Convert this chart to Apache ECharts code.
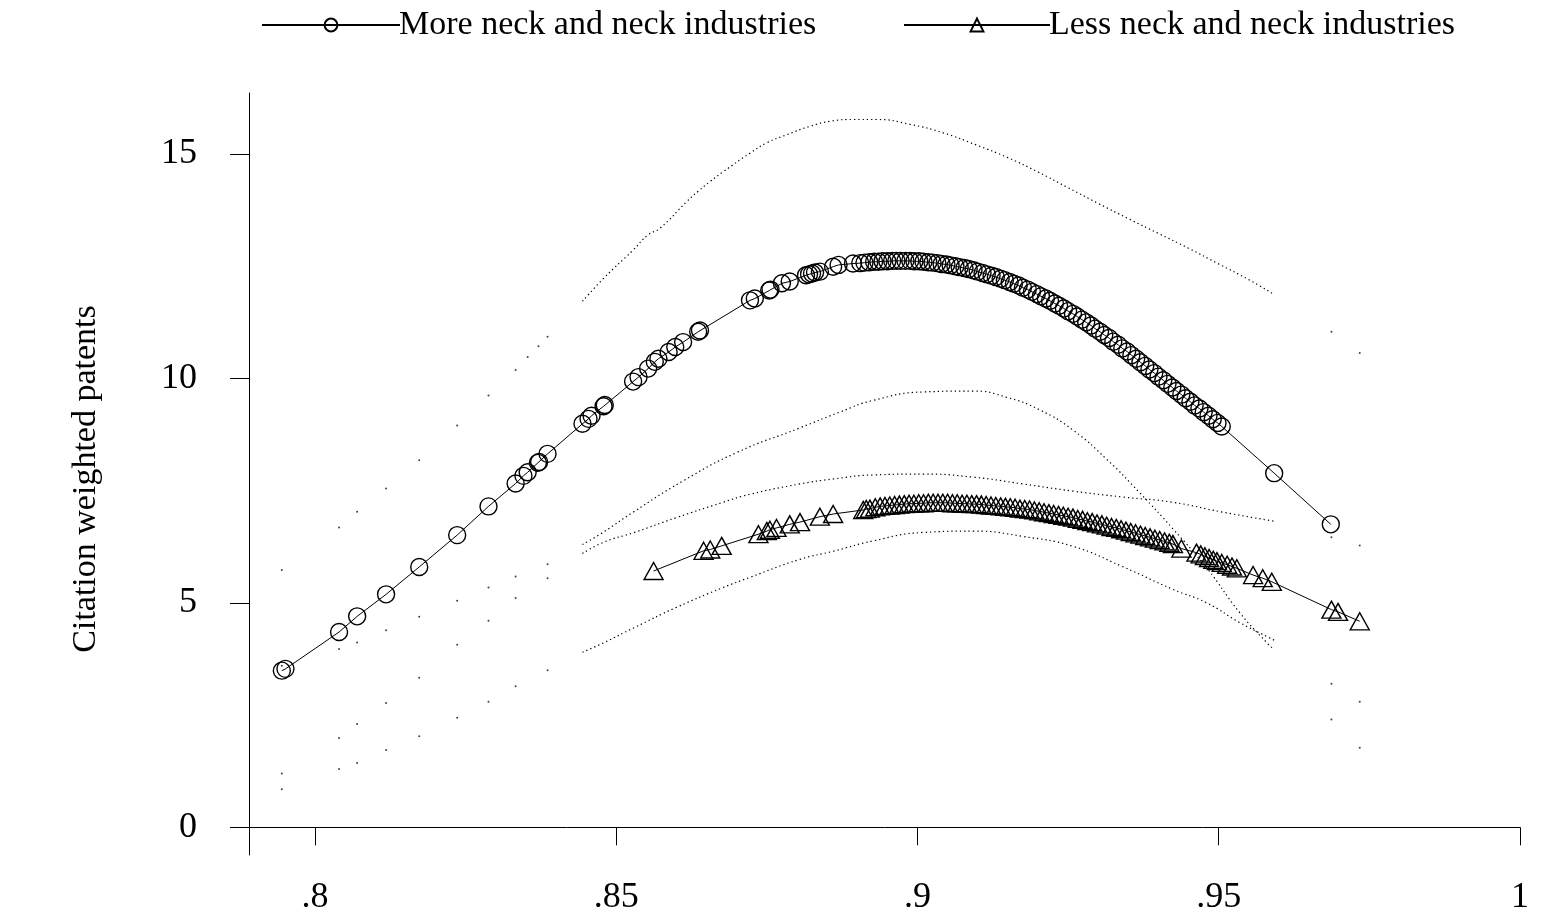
<!DOCTYPE html>
<html><head><meta charset="utf-8">
<script src="https://cdn.jsdelivr.net/npm/echarts@6/dist/echarts.min.js"></script>
<style>html,body{margin:0;padding:0;background:#fff}#c{width:1542px;height:916px}</style>
</head><body><div id="c"></div>
<script>
const seriesNames = ['More neck and neck industries', 'Less neck and neck industries'];
const yAxisTitle = 'Citation weighted patents';
const xTickValues = [0.8, 0.85, 0.9, 0.95, 1];
const xTickLabels = ['.8', '.85', '.9', '.95', '1'];
const yTickValues = [0, 5, 10, 15];
const yTickLabels = ['0', '5', '10', '15'];

const moreData = [
[.7945,3.49],[.7951,3.53],[.8040,4.35],[.8070,4.70],[.8118,5.19],[.8173,5.80],[.8236,6.51],[.8288,7.15],
[.8333,7.66],[.8346,7.83],[.8353,7.91],[.8370,8.12],[.8372,8.14],[.8386,8.32],[.8444,8.99],[.8454,9.10],
[.8459,9.17],[.8479,9.38],[.8481,9.41],[.8528,9.93],[.8537,10.03],[.8553,10.22],[.8564,10.37],[.8570,10.44],
[.8587,10.59],[.8598,10.70],[.8611,10.81],[.8636,11.04],[.8639,11.07],[.8722,11.74],[.8730,11.78],[.8754,11.96],
[.8756,11.98],[.8775,12.12],[.8788,12.16],[.8815,12.30],[.8820,12.32],[.8825,12.34],[.8830,12.36],[.8838,12.38],
[.8860,12.49],[.8869,12.53],[.8893,12.56],
[.8905,12.57],[.8912,12.58],[.8920,12.59],[.8928,12.60],[.8935,12.60],[.8942,12.61],[.8950,12.61],[.8958,12.62],
[.8965,12.62],[.8972,12.62],[.8980,12.62],[.8988,12.62],[.8995,12.61],[.9003,12.61],[.9010,12.60],[.9018,12.59],
[.9025,12.58],[.9033,12.57],[.9040,12.55],[.9048,12.54],[.9055,12.52],[.9063,12.50],[.9070,12.48],[.9078,12.46],
[.9085,12.44],[.9093,12.41],[.9100,12.38],[.9108,12.35],[.9115,12.32],[.9123,12.29],[.9130,12.26],[.9138,12.22],
[.9145,12.19],[.9153,12.15],[.9160,12.11],[.9168,12.07],[.9175,12.02],[.9183,11.98],[.9190,11.93],[.9198,11.88],
[.9205,11.83],[.9213,11.78],[.9220,11.73],[.9228,11.67],[.9235,11.62],[.9243,11.56],[.9250,11.50],[.9258,11.44],
[.9265,11.38],[.9273,11.31],[.9280,11.25],[.9288,11.18],[.9295,11.11],[.9303,11.04],[.9310,10.97],[.9318,10.90],
[.9325,10.82],[.9333,10.75],[.9340,10.67],[.9348,10.60],[.9355,10.52],[.9363,10.44],[.9370,10.36],[.9378,10.28],
[.9385,10.20],[.9393,10.12],[.9400,10.04],[.9408,9.96],[.9415,9.88],[.9423,9.80],[.9430,9.72],[.9438,9.64],
[.9445,9.56],[.9453,9.48],[.9460,9.40],[.9468,9.33],[.9475,9.25],[.9483,9.17],[.9490,9.09],[.9498,9.01],
[.9505,8.93],[.9592,7.89],[.9686,6.75]
];

const lessData = [
[.8562,5.71],[.8645,6.16],[.8656,6.19],[.8675,6.27],[.8736,6.53],[.8750,6.60],[.8755,6.63],[.8766,6.67],
[.8788,6.75],[.8805,6.80],[.8838,6.92],[.8860,6.98],[.8910,7.07],[.8915,7.09],[.8921,7.10],
[.8930,7.13],[.8938,7.15],[.8946,7.16],[.8954,7.17],[.8962,7.18],[.8970,7.19],[.8978,7.20],[.8986,7.21],
[.8994,7.21],[.9002,7.22],[.9010,7.22],[.9018,7.23],[.9026,7.23],[.9034,7.23],[.9042,7.23],[.9050,7.23],
[.9058,7.22],[.9066,7.22],[.9074,7.21],[.9082,7.21],[.9090,7.20],[.9098,7.20],[.9106,7.19],[.9114,7.18],
[.9122,7.17],[.9130,7.16],[.9138,7.15],[.9146,7.14],[.9154,7.13],[.9162,7.12],[.9170,7.10],[.9178,7.09],
[.9186,7.08],[.9194,7.06],[.9202,7.04],[.9210,7.02],[.9218,7.00],[.9226,6.98],[.9234,6.96],[.9242,6.94],
[.9250,6.92],[.9258,6.90],[.9266,6.87],[.9274,6.85],[.9282,6.82],[.9290,6.80],[.9298,6.77],[.9306,6.75],
[.9314,6.72],[.9322,6.69],[.9330,6.67],[.9338,6.64],[.9346,6.61],[.9354,6.58],[.9362,6.55],[.9370,6.52],
[.9378,6.49],[.9386,6.46],[.9394,6.43],[.9402,6.40],[.9410,6.37],[.9418,6.34],[.9424,6.31],
[.9438,6.21],[.9463,6.12],[.9470,6.08],[.9477,6.04],[.9484,6.00],[.9491,5.96],[.9497,5.93],[.9505,5.89],
[.9514,5.85],[.9522,5.81],[.9530,5.77],[.9557,5.62],[.9573,5.55],[.9588,5.47],[.9687,4.85],[.9698,4.80],
[.9734,4.59]
];

const moreUpper = [
[.7945,5.73],[.8040,6.68],[.8070,7.03],[.8118,7.55],[.8173,8.18],[.8236,8.95],[.8288,9.62],[.8333,10.19],
[.8353,10.48],[.8371,10.72],[.8386,10.93],[.8444,11.72],[.8479,12.23],[.8528,12.86],[.8553,13.20],[.8573,13.35],
[.8617,13.94],[.8636,14.17],[.8656,14.39],[.8678,14.61],[.8722,15.02],[.8750,15.25],[.8783,15.43],[.8822,15.62],
[.8855,15.73],[.8894,15.77],[.8932,15.77],[.8988,15.66],[.9043,15.47],[.9098,15.20],[.9150,14.92],[.9200,14.60],
[.9250,14.25],[.9300,13.90],[.9350,13.56],[.9400,13.23],[.9450,12.90],[.9500,12.55],[.9550,12.20],[.9592,11.87],
[.9687,11.04],[.9734,10.57]
];
const moreLower = [
[.7945,1.20],[.8040,1.99],[.8070,2.30],[.8118,2.77],[.8173,3.33],[.8236,4.07],[.8288,4.60],[.8333,5.11],
[.8386,5.55],[.8444,6.30],[.8479,6.58],[.8528,7.02],[.8610,7.71],[.8700,8.35],[.8805,8.90],[.8871,9.25],
[.8926,9.51],[.9010,9.70],[.9093,9.72],[.9148,9.58],[.9203,9.30],[.9258,8.85],[.9314,8.20],[.9369,7.45],
[.9424,6.65],[.9480,5.78],[.9535,4.78],[.9580,4.11],[.9592,3.96],[.9687,2.40],[.9734,1.77]
];
const lessUpper = [
[.7945,3.60],[.8040,3.97],[.8070,4.12],[.8118,4.39],[.8173,4.69],[.8236,5.05],[.8288,5.34],[.8333,5.59],
[.8386,5.86],[.8444,6.10],[.8479,6.35],[.8530,6.57],[.8600,6.90],[.8677,7.24],[.8722,7.42],[.8805,7.65],
[.8860,7.76],[.8926,7.85],[.9010,7.87],[.9093,7.80],[.9175,7.65],[.9258,7.49],[.9340,7.36],[.9424,7.24],
[.9507,7.02],[.9592,6.82],[.9687,6.46],[.9734,6.28]
];
const lessLower = [
[.7945,0.85],[.8040,1.30],[.8070,1.43],[.8118,1.72],[.8173,2.03],[.8236,2.44],[.8288,2.80],[.8333,3.14],
[.8386,3.50],[.8444,3.90],[.8479,4.11],[.8530,4.45],[.8600,4.90],[.8677,5.34],[.8722,5.57],[.8805,5.97],
[.8860,6.15],[.8926,6.38],[.9010,6.57],[.9093,6.60],[.9175,6.48],[.9258,6.26],[.9340,5.81],[.9424,5.30],
[.9480,5.00],[.9535,4.56],[.9580,4.25],[.9592,4.17],[.9687,3.20],[.9734,2.80]
];

const FONT = 'Liberation Serif, Times New Roman, serif';
const chart = echarts.init(document.getElementById('c'), null, {renderer: 'canvas'});

function lab(values, labels) {
  return v => { const i = values.findIndex(t => Math.abs(t - v) < 1e-9); return i >= 0 ? labels[i] : ''; };
}
const bandSeries = [];
[moreUpper, moreLower, lessUpper, lessLower].forEach(b => {
  bandSeries.push({
    type: 'line', data: b.filter(p => p[0] >= 0.844 && p[0] <= 0.96), showSymbol: false, smooth: true,
    lineStyle: {color: '#000', width: 1.2, type: [1.3, 3]}, silent: true, z: 1
  });
  bandSeries.push({
    type: 'scatter', data: b.filter(p => p[0] < 0.844 || p[0] > 0.96), symbol: 'circle', symbolSize: 2,
    itemStyle: {color: '#111'}, silent: true, z: 1
  });
});

const markerStyle = {color: 'rgba(0,0,0,0)', borderColor: '#000', borderWidth: 1.4};
const legendText = {fontFamily: FONT, fontSize: 34, color: '#000', padding: [0, 0, 0, -6]};
chart.setOption({
  animation: false,
  backgroundColor: '#fff',
  grid: {left: 249, right: 22, top: 93, bottom: 61},
  legend: [
    {data: [seriesNames[0]], left: 256, top: 3, itemWidth: 138, itemHeight: 16, itemGap: 0,
     textStyle: legendText, selectedMode: false},
    {data: [seriesNames[1]], left: 898, top: 3, itemWidth: 146, itemHeight: 16, itemGap: 0,
     textStyle: legendText, selectedMode: false}
  ],
  xAxis: {
    type: 'value', min: 0.78905, max: 1.0,
    axisLine: {show: true, lineStyle: {color: '#000', width: 1}},
    axisTick: {show: true, length: 18, customValues: xTickValues, lineStyle: {color: '#000', width: 1}},
    axisLabel: {customValues: xTickValues, formatter: lab(xTickValues, xTickLabels), fontFamily: FONT, fontSize: 36, color: '#000', margin: 25},
    splitLine: {show: false}
  },
  yAxis: {
    type: 'value', min: -0.617, max: 16.36,
    name: yAxisTitle, nameLocation: 'middle', nameGap: 146,
    nameTextStyle: {fontFamily: FONT, fontSize: 34, color: '#000', padding: [0, 0, 0, -10]},
    axisLine: {show: true, lineStyle: {color: '#000', width: 1}},
    axisTick: {show: true, length: 19, customValues: yTickValues, lineStyle: {color: '#000', width: 1}},
    axisLabel: {customValues: yTickValues, formatter: lab(yTickValues, yTickLabels), fontFamily: FONT, fontSize: 36, color: '#000', margin: 52, padding: [8, 0, 0, 0]},
    splitLine: {show: false}
  },
  series: bandSeries.concat([
    {name: seriesNames[0], type: 'line', data: moreData, symbol: 'circle', symbolSize: 17, showAllSymbol: true,
     itemStyle: markerStyle, lineStyle: {color: '#000', width: 1}, emphasis: {disabled: true}, z: 3},
    {name: seriesNames[1], type: 'line', data: lessData, symbol: 'triangle', symbolSize: [19, 17], showAllSymbol: true,
     itemStyle: markerStyle, lineStyle: {color: '#000', width: 1}, emphasis: {disabled: true}, z: 3}
  ])
});
</script></body></html>
